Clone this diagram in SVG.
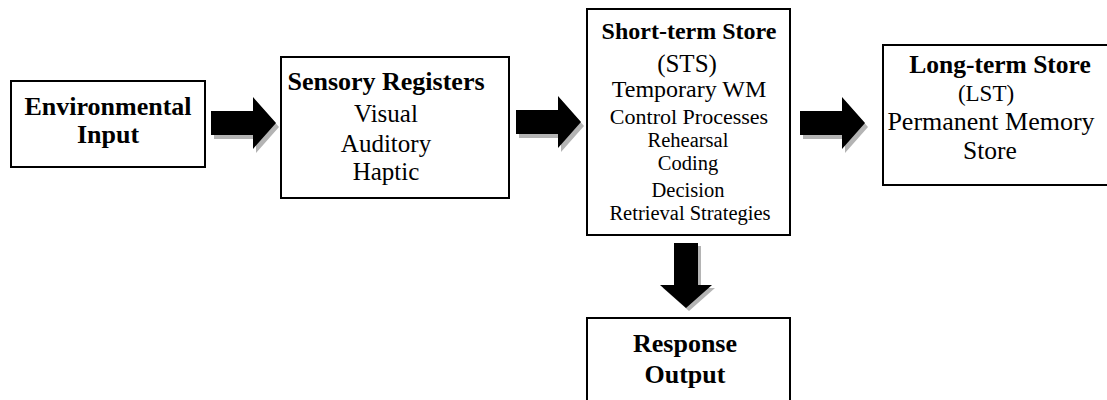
<svg xmlns="http://www.w3.org/2000/svg" width="1107" height="400" viewBox="0 0 1107 400">
  <style>
    .box { fill: #ffffff; stroke: #000000; stroke-width: 2; }
    .t { font-family: "Liberation Serif", "Times New Roman", serif; fill: #000000; text-anchor: middle; }
    .b { font-weight: bold; }
    .arrow { fill: #000000; }
    .shadow { fill: #b4b4b4; }
  </style>
  <defs>
    <!-- block arrow pointing right, origin at the tail centre -->
    <path id="blockArrow" d="M0,-12 H42 V-26 L65,0 L42,26 V12 H0 Z"/>
  </defs>

  <rect width="1107" height="400" fill="#ffffff"/>

  <g id="connectors">
    <g transform="translate(211,123)">
      <use href="#blockArrow" class="shadow" transform="translate(3,4)"/>
      <use href="#blockArrow" class="arrow"/>
    </g>
    <g transform="translate(516,122)">
      <use href="#blockArrow" class="shadow" transform="translate(3,4)"/>
      <use href="#blockArrow" class="arrow"/>
    </g>
    <g transform="translate(800,123)">
      <use href="#blockArrow" class="shadow" transform="translate(3,4)"/>
      <use href="#blockArrow" class="arrow"/>
    </g>
    <g transform="translate(686,243) rotate(90)">
      <use href="#blockArrow" class="shadow" transform="translate(3,-3)"/>
      <use href="#blockArrow" class="arrow"/>
    </g>
  </g>

  <g id="environmental-input">
    <rect class="box" x="11" y="81" width="194" height="86"/>
    <text class="t b" x="108" y="115" font-size="26">Environmental</text>
    <text class="t b" x="108" y="143" font-size="26">Input</text>
  </g>

  <g id="sensory-registers">
    <rect class="box" x="281" y="57" width="228" height="141"/>
    <text class="t b" x="386" y="90" font-size="26">Sensory Registers</text>
    <text class="t" x="386" y="122" font-size="25">Visual</text>
    <text class="t" x="386" y="152" font-size="25">Auditory</text>
    <text class="t" x="386" y="180" font-size="25">Haptic</text>
  </g>

  <g id="short-term-store">
    <rect class="box" x="587" y="9" width="203" height="226"/>
    <text class="t b" x="689" y="39" font-size="24">Short-term Store</text>
    <text class="t" x="687" y="72" font-size="25">(STS)</text>
    <text class="t" x="689" y="97" font-size="24">Temporary WM</text>
    <text class="t" x="689" y="124" font-size="22">Control Processes</text>
    <text class="t" x="688" y="147" font-size="20.5">Rehearsal</text>
    <text class="t" x="688" y="170" font-size="20.5">Coding</text>
    <text class="t" x="688" y="197" font-size="20.5">Decision</text>
    <text class="t" x="690" y="220" font-size="20.5">Retrieval Strategies</text>
  </g>

  <g id="long-term-store">
    <rect class="box" x="883" y="45" width="230" height="140"/>
    <text class="t b" x="1000" y="73" font-size="25.5">Long-term Store</text>
    <text class="t" x="986" y="101" font-size="23">(LST)</text>
    <text class="t" x="991" y="130" font-size="26">Permanent Memory</text>
    <text class="t" x="990" y="159" font-size="25.5">Store</text>
  </g>

  <g id="response-output">
    <rect class="box" x="587" y="318" width="203" height="100"/>
    <text class="t b" x="685" y="352" font-size="26">Response</text>
    <text class="t b" x="685" y="383" font-size="26">Output</text>
  </g>
</svg>
